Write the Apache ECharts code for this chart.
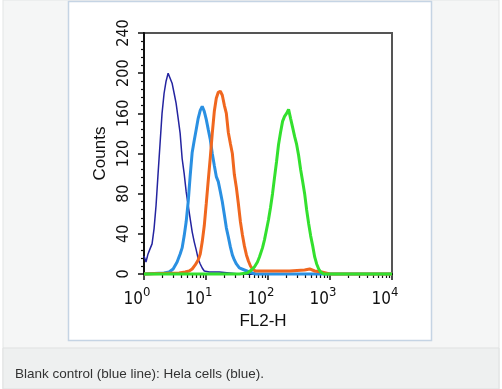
<!DOCTYPE html>
<html>
<head>
<meta charset="utf-8">
<script src="https://cdn.jsdelivr.net/npm/echarts@6/dist/echarts.min.js"></script>
<style>
html,body{margin:0;padding:0;background:#fff;}
#c{width:502px;height:389px;}
</style>
</head>
<body>
<div id="c"></div>
<script>
// FL2-H positions are given in decades (log10 of FL2-H), counts on y
var blankX = [0, 0.032, 0.065, 0.097, 0.130, 0.162, 0.194, 0.227, 0.259, 0.291, 0.324, 0.356, 0.389, 0.421, 0.453, 0.486, 0.518, 0.551, 0.583, 0.615, 0.648, 0.680, 0.713, 0.745, 0.777, 0.810, 0.842, 0.874, 0.907, 0.939, 0.972, 1.053, 1.215, 1.377, 1.538, 4.0];
var blankY = [18, 12, 20, 25, 30, 45, 68, 100, 130, 160, 180, 192, 200, 199, 190, 180, 170, 155, 140, 115, 100, 82, 68, 55, 42, 32, 24, 15, 10, 6, 3, 2, 2, 1, 0, 0];

var blueX = [0, 0.324, 0.405, 0.470, 0.534, 0.583, 0.615, 0.648, 0.680, 0.713, 0.745, 0.777, 0.810, 0.842, 0.874, 0.907, 0.939, 0.972, 1.004, 1.036, 1.069, 1.101, 1.134, 1.166, 1.198, 1.231, 1.263, 1.296, 1.328, 1.360, 1.393, 1.425, 1.457, 1.490, 1.538, 1.619, 1.700, 1.798, 4.0];
var blueY = [0, 1, 2, 5, 12, 20, 26, 38, 52, 72, 98, 121, 133, 144, 155, 163, 167, 162, 154, 144, 134, 120, 108, 97, 92, 82, 72, 59, 46, 37, 27, 19, 14, 10, 6, 4, 2, 0, 0];

var orangeX = [0, 0.567, 0.664, 0.729, 0.777, 0.826, 0.874, 0.907, 0.939, 0.972, 1.004, 1.036, 1.069, 1.101, 1.134, 1.166, 1.198, 1.231, 1.263, 1.296, 1.328, 1.360, 1.393, 1.425, 1.457, 1.490, 1.522, 1.555, 1.587, 1.619, 1.652, 1.684, 1.717, 1.749, 1.798, 2.024, 2.348, 2.591, 2.672, 2.753, 2.866, 2.996, 4.0];
var orangeY = [0, 1, 2, 3, 5, 9, 14, 20, 32, 48, 70, 93, 116, 140, 162, 175, 181, 182, 178, 168, 160, 141, 130, 120, 99, 86, 70, 52, 39, 28, 19, 13, 8, 5, 3, 3, 3, 4, 5, 3, 2, 0, 0];

var greenX = [0, 1.538, 1.668, 1.733, 1.781, 1.830, 1.862, 1.911, 1.943, 1.976, 2.008, 2.040, 2.073, 2.105, 2.138, 2.170, 2.202, 2.235, 2.267, 2.300, 2.332, 2.364, 2.397, 2.429, 2.462, 2.494, 2.526, 2.559, 2.591, 2.623, 2.656, 2.688, 2.721, 2.753, 2.785, 2.818, 2.850, 2.899, 4.0];
var greenY = [0, 0, 1, 4, 7, 12, 17, 26, 34, 44, 54, 66, 80, 96, 112, 129, 141, 152, 157, 160, 164, 155, 146, 137, 129, 118, 104, 92, 80, 64, 50, 38, 28, 17, 10, 5, 2, 0, 0];

var decadeTicks = [0, 1, 2, 3, 4];
var yTicks = [0, 40, 80, 120, 160, 200, 240];
var caption = 'Blank control (blue line): Hela cells (blue).';

function pairs(xs, ys) { return xs.map(function (x, i) { return [x, ys[i]]; }); }

var minorLog = [];
for (var d = 0; d < 4; d++) {
  for (var k = 2; k <= 9; k++) minorLog.push(d + Math.log10(k));
}

var FONT = '"Liberation Sans", Arial, sans-serif';
var NARROW = '"Liberation Sans Narrow", "Arial Narrow", "DejaVu Sans Condensed", sans-serif';
var chart = echarts.init(document.getElementById('c'), null, {renderer: 'canvas'});
chart.setOption({
  animation: false,
  backgroundColor: '#ffffff',
  graphic: [
    {type: 'rect', z: -10, silent: true, shape: {x: 3, y: 0, width: 496, height: 389}, style: {fill: '#f5f6f6', stroke: '#e3e5e5', lineWidth: 1}},
    {type: 'rect', z: -9, silent: true, shape: {x: 68.5, y: 1.5, width: 363, height: 339}, style: {fill: '#ffffff', stroke: '#c5d4e4', lineWidth: 1.5}},
    {type: 'rect', z: -9, silent: true, shape: {x: 3, y: 348, width: 496, height: 41}, style: {fill: '#eef0f0', stroke: '#dfe1e1', lineWidth: 1}},
    {type: 'text', z: 10, silent: true, x: 15, y: 374, style: {text: caption, fontSize: 13.5, fontFamily: FONT, fill: '#333333', verticalAlign: 'middle'}}
  ],
  grid: {left: 144, top: 33, width: 248, height: 241, show: true, backgroundColor: '#ffffff', borderColor: '#555555', borderWidth: 2},
  xAxis: [
    {
      type: 'value', min: 0, max: 4, interval: 1,
      name: 'FL2-H', nameLocation: 'middle', nameGap: 37,
      nameTextStyle: {fontSize: 17, fontFamily: FONT, color: '#111', padding: [0, 10, 0, 0]},
      axisLine: {show: true, onZero: false, lineStyle: {color: '#111', width: 2}},
      axisTick: {show: true, inside: false, length: 6, lineStyle: {color: '#111', width: 1.5}},
      splitLine: {show: false},
      axisLabel: {
        margin: 12, color: '#111', fontFamily: NARROW,
        padding: [0, 14, 0, 0],
        formatter: function (v) { return '{b|10}{s|' + v + '}'; },
        rich: {
          b: {fontSize: 17, fontFamily: NARROW, color: '#111', lineHeight: 22, verticalAlign: 'bottom'},
          s: {fontSize: 13, fontFamily: NARROW, color: '#111', lineHeight: 22, verticalAlign: 'top'}
        }
      }
    },
    {
      type: 'value', min: 0, max: 4, position: 'bottom',
      axisLine: {show: false},
      axisLabel: {show: false},
      splitLine: {show: false},
      axisTick: {show: true, inside: false, length: 4, customValues: minorLog, lineStyle: {color: '#111', width: 1.2}}
    }
  ],
  yAxis: {
    type: 'value', min: 0, max: 240, interval: 40,
    name: 'Counts', nameLocation: 'middle', nameGap: 35, nameRotate: 90,
    nameTextStyle: {fontSize: 17, fontFamily: FONT, color: '#111'},
    axisLine: {show: true, lineStyle: {color: '#111', width: 2}},
    axisTick: {show: true, inside: false, length: 6, lineStyle: {color: '#111', width: 1.5}},
    minorTick: {show: true, splitNumber: 5, length: 3, lineStyle: {color: '#111', width: 1.2}},
    splitLine: {show: false},
    minorSplitLine: {show: false},
    axisLabel: {rotate: 90, margin: 12, fontSize: 16, fontFamily: NARROW, color: '#111',
      formatter: function (v) { return yTicks.indexOf(v) >= 0 ? String(v) : ''; }}
  },
  series: [
    {type: 'line', name: 'Blank control', data: pairs(blankX, blankY), showSymbol: false, clip: false, z: 3,
      lineStyle: {color: '#2424a0', width: 1.5}},
    {type: 'line', name: 'Hela (blue)', data: pairs(blueX, blueY), showSymbol: false, clip: false, z: 4,
      lineStyle: {color: '#2a90e2', width: 3}},
    {type: 'line', name: 'Orange', data: pairs(orangeX, orangeY), showSymbol: false, clip: false, z: 5,
      lineStyle: {color: '#f0671f', width: 3}},
    {type: 'line', name: 'Green', data: pairs(greenX, greenY), showSymbol: false, clip: false, z: 6,
      lineStyle: {color: '#33e02e', width: 3}}
  ]
});
</script>
</body>
</html>
